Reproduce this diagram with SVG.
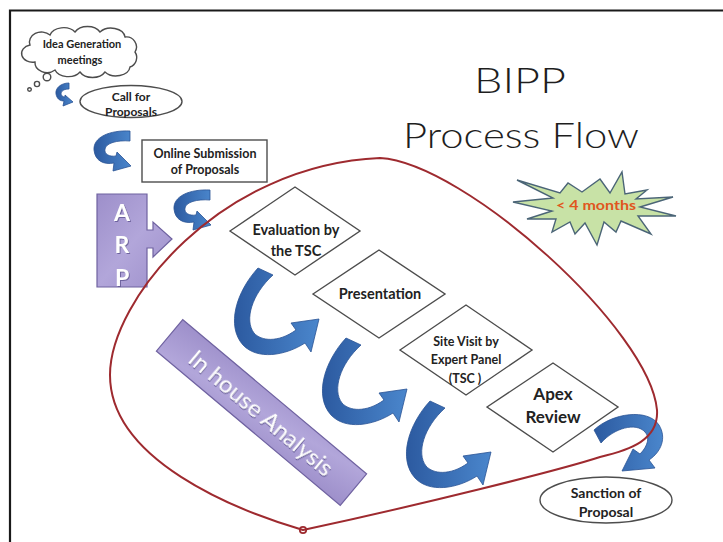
<svg xmlns="http://www.w3.org/2000/svg" width="723" height="542" viewBox="0 0 723 542">
  <defs>
    <linearGradient id="blueArrow" x1="0" y1="0" x2="1" y2="0">
      <stop offset="0" stop-color="#2c5aa0"/>
      <stop offset="1" stop-color="#4a86cc"/>
    </linearGradient>
    <linearGradient id="purpleFill" x1="0" y1="0" x2="1" y2="1">
      <stop offset="0" stop-color="#9d8fca"/>
      <stop offset="0.5" stop-color="#b2a6da"/>
      <stop offset="1" stop-color="#9d8fca"/>
    </linearGradient>
    <filter id="softShadow" x="-10%" y="-10%" width="120%" height="130%">
      <feDropShadow dx="1" dy="1" stdDeviation="0.6" flood-color="#5e5290" flood-opacity="0.8"/>
    </filter>
    <!-- large curved hand-off arrow between diamonds -->
    <path id="bigCurve" d="M258,268 C236,292 226,326 243,345 C257,360 285,356 305,343 L311,352 L319,319 L291,323 L296,330 C278,343 261,341 254,333 C244,320 252,294 273,275 Z"/>
    <!-- medium curved arrow used between the intake steps -->
    <path id="midCurve" d="M130,131 C110,130 93,137 94,150 C95,161 104,165 114,163 L113,171 L131,166 L117,152 L116,156 C109,157 104,154 105,149 C106,143 117,140 130,141 Z"/>
  </defs>
  <style>
    .frame { fill: none; stroke: #1a1a1a; stroke-width: 2.2; }
    .box { fill: #ffffff; stroke: #4d4d4d; stroke-width: 1.4; }
    .lbl { font-family: Lato, "Liberation Sans", sans-serif; font-weight: 700; fill: #222222; text-anchor: middle; }
    .flow { fill: url(#blueArrow); stroke: #2a5394; stroke-width: 0.8; }
    .loop { fill: none; stroke: #9e2a2f; stroke-width: 2; }
    .purple { fill: url(#purpleFill); stroke: #6f62a0; stroke-width: 1.2; }
    .white { font-family: Lato, "Liberation Sans", sans-serif; fill: #ffffff; text-anchor: middle; filter: url(#softShadow); }
    .title { font-family: Lato, "DejaVu Sans", sans-serif; font-weight: 300; fill: #1e1e1e; text-anchor: middle; }
  </style>

  <rect x="0" y="0" width="723" height="542" fill="#ffffff"/>
  <path class="frame" d="M10,542 L10,10.5 L723,10.5"/>

  <!-- title -->
  <g id="title">
    <text class="title" x="520" y="93" font-size="36" textLength="92" lengthAdjust="spacingAndGlyphs">BIPP</text>
    <text class="title" x="521" y="148" font-size="35" textLength="236" lengthAdjust="spacingAndGlyphs">Process Flow</text>
  </g>

  <!-- time-frame starburst -->
  <g id="duration">
    <polygon points="513,202 553,198 517,180 560,193 568,183 582,192 600,179 610,193 622,172 625,194 647,190 636,199 673,197 640,207 676,216 638,216 651,234 621,221 616,232 604,222 597,245 585,223 575,234 570,222 552,232 556,219 527,219 552,211" fill="#c8e2a6" stroke="#4b6577" stroke-width="1.4" stroke-linejoin="miter"/>
    <text x="596" y="210" font-family="Lato, 'Liberation Sans', sans-serif" font-weight="700" font-size="13" fill="#e0561e" text-anchor="middle" textLength="80" lengthAdjust="spacingAndGlyphs">&lt; 4 months</text>
  </g>

  <!-- intake steps -->
  <g id="idea-generation">
    <path class="box" d="M30,45 a12,10 0 0 1 20,-10 a14,10 0 0 1 25,-3 a14,10 0 0 1 25,0 a14,10 0 0 1 25,5 a10,10 0 0 1 10,15 a10,10 0 0 1 -5,15 a14,10 0 0 1 -25,5 a14,10 0 0 1 -25,0 a14,10 0 0 1 -25,-2 a12,10 0 0 1 -20,-8 a10,8 0 0 1 -5,-17 z"/>
    <circle class="box" cx="47" cy="77" r="3.8"/>
    <circle class="box" cx="37" cy="84" r="2.6"/>
    <circle class="box" cx="29.5" cy="89.5" r="1.8"/>
    <text class="lbl" x="82" y="48" font-size="11">Idea Generation</text>
    <text class="lbl" x="80" y="64" font-size="11">meetings</text>
  </g>

  <g id="call-for-proposals">
    <ellipse class="box" cx="131" cy="101.5" rx="51" ry="16"/>
    <text class="lbl" x="131" y="101" font-size="12">Call for</text>
    <text class="lbl" x="131" y="116" font-size="12">Proposals</text>
  </g>

  <g id="online-submission">
    <rect class="box" x="142" y="140" width="125" height="42"/>
    <text class="lbl" x="205" y="158" font-size="12.5">Online Submission</text>
    <text class="lbl" x="205" y="174" font-size="12.5">of Proposals</text>
  </g>

  <g id="arp">
    <path class="purple" d="M97,194 H147 V230 H153 V222 L172,239 L153,257 V248 H147 V287 H97 Z"/>
    <text class="white" x="122" y="221" font-size="23" font-weight="700">A</text>
    <text class="white" x="122" y="253" font-size="23" font-weight="700">R</text>
    <text class="white" x="122" y="286" font-size="23" font-weight="700">P</text>
  </g>

  <g id="in-house-analysis" transform="translate(261.5,412.5) rotate(40)">
    <rect class="purple" x="-120" y="-20.5" width="240" height="41"/>
    <text class="white" x="0" y="8.5" font-size="24">In house Analysis</text>
  </g>

  <!-- flow arrows -->
  <g id="connectors">
    <path class="flow" d="M69,83 C61,83 55,88 56,94 C57,99 60,101 64,101 L63,106 L73,102 L65,95 L65,97 C62,97 61,95 61,93 C62,90 65,89 69,89 Z"/>
    <use href="#midCurve" class="flow"/>
    <use href="#midCurve" class="flow" transform="translate(80,59)"/>
    <use href="#bigCurve" class="flow"/>
    <use href="#bigCurve" class="flow" transform="translate(88,70)"/>
    <use href="#bigCurve" class="flow" transform="translate(172,133)"/>
    <path class="flow" d="M594,430 C612,413 648,408 659,425 C667,438 661,452 649,460 L655,468 L622,471 L633,449 L640,454 C648,446 650,437 645,432 C636,422 614,428 601,443 Z"/>
  </g>

  <!-- review stages -->
  <g id="evaluation-tsc">
    <polygon class="box" points="230,231 295,187 360,231 295,275"/>
    <text class="lbl" x="296" y="235" font-size="14.5">Evaluation by</text>
    <text class="lbl" x="296" y="256" font-size="14.5">the TSC</text>
  </g>

  <g id="presentation">
    <polygon class="box" points="313,294 379,250 445,294 379,338"/>
    <text class="lbl" x="380" y="299" font-size="14.5">Presentation</text>
  </g>

  <g id="site-visit">
    <polygon class="box" points="400,350 466,305 532,350 466,395"/>
    <text class="lbl" x="466" y="346" font-size="12.5">Site Visit by</text>
    <text class="lbl" x="466" y="364" font-size="12.5">Expert Panel</text>
    <text class="lbl" x="465" y="383" font-size="12.5">(TSC )</text>
  </g>

  <g id="apex-review">
    <polygon class="box" points="487,407 553,363 618,407 553,452"/>
    <text class="lbl" x="553" y="400" font-size="17">Apex</text>
    <text class="lbl" x="553" y="423" font-size="17">Review</text>
  </g>

  <g id="sanction">
    <ellipse class="box" cx="606" cy="500" rx="66" ry="23"/>
    <text class="lbl" x="606" y="498" font-size="14">Sanction of</text>
    <text class="lbl" x="606" y="517" font-size="14">Proposal</text>
  </g>

  <!-- boundary of the four-month cycle -->
  <g id="cycle-boundary">
    <path class="loop" d="M303,530 C235,510 110,460 110,375 C110,300 220,165 380,158 C465,163 650,330 657,410 C659,440 630,450 600,457 C560,470 420,505 303,530 Z"/>
    <circle cx="303" cy="530" r="3.2" fill="none" stroke="#9e2a2f" stroke-width="1.8"/>
  </g>
</svg>
